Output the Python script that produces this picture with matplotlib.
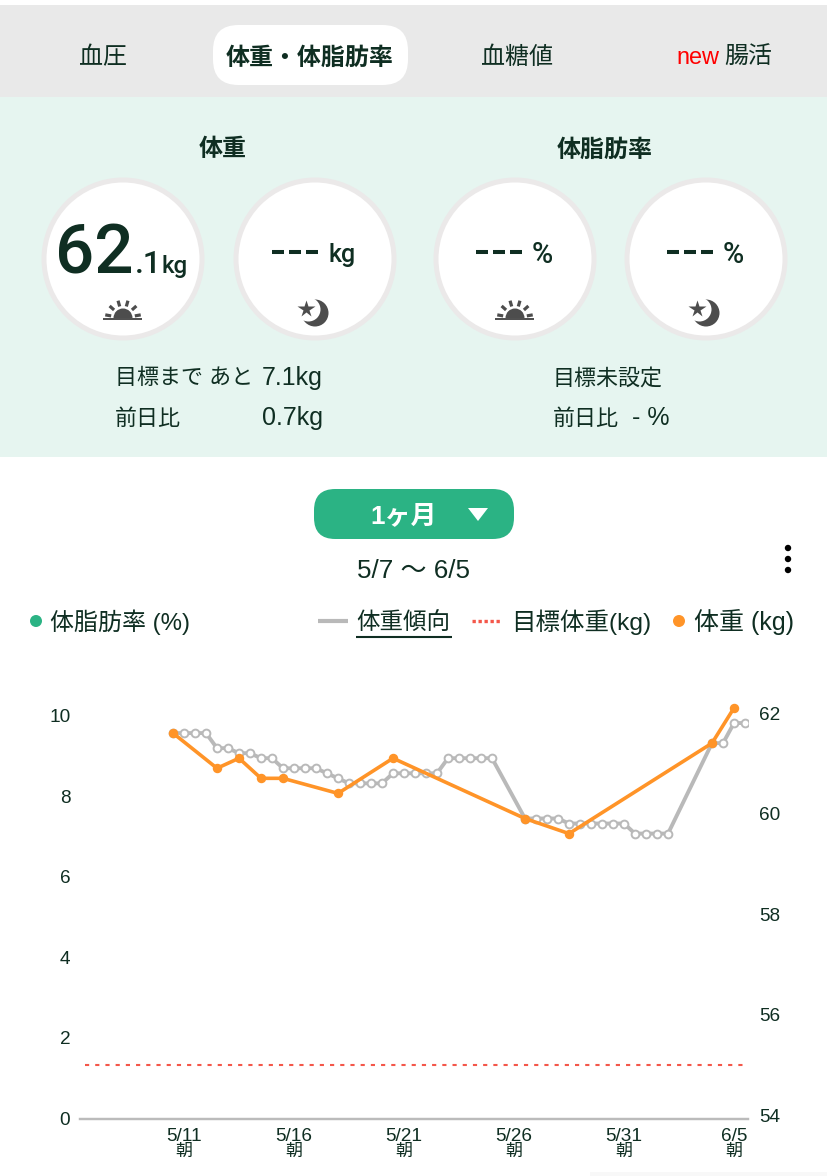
# plot.py - weight / body fat screen with the 1 month chart

import math
import matplotlib
matplotlib.use("Agg")
import matplotlib.pyplot as plt
from matplotlib.patches import Circle, FancyBboxPatch, Rectangle, Wedge, Polygon

W, H = 828, 1176
DARK = "#0f2e22"
ICON = "#4d4d4d"
plt.rcParams["font.family"] = ["Liberation Sans", "Noto Sans CJK JP", "DejaVu Sans"]

# x values count half days from the morning of 5/7
weight_x = [7, 11, 13, 15, 17, 22, 27, 39, 43, 56, 58]
weight_kg = [61.6, 60.9, 61.1, 60.7, 60.7, 60.4, 61.1, 59.9, 59.6, 61.4, 62.1]
trend_x = [7, 8, 9, 10, 11, 12, 13, 14, 15, 16, 17, 18, 19, 20, 21, 22, 23, 24, 25, 26,
           27, 28, 29, 30, 31, 32, 33, 34, 35, 36, 39, 40, 41, 42, 43, 44, 45, 46, 47, 48,
           49, 50, 51, 52, 56, 57, 58, 59]
trend_kg = [61.6, 61.6, 61.6, 61.6, 61.3, 61.3, 61.2, 61.2, 61.1, 61.1, 60.9, 60.9, 60.9, 60.9,
            60.8, 60.7, 60.6, 60.6, 60.6, 60.6, 60.8, 60.8, 60.8, 60.8, 60.8, 61.1, 61.1, 61.1,
            61.1, 61.1, 59.9, 59.9, 59.9, 59.9, 59.8, 59.8, 59.8, 59.8, 59.8, 59.8, 59.6, 59.6,
            59.6, 59.6, 61.4, 61.4, 61.8, 61.8]
target_x = [-1, 59]
target_kg = [55, 55]
date_ticks = [8, 18, 28, 38, 48, 58]
date_labels = ["5/11", "5/16", "5/21", "5/26", "5/31", "6/5"]
time_labels = ["朝", "朝", "朝", "朝", "朝", "朝"]
fat_ticks = [0, 2, 4, 6, 8, 10]
kg_ticks = [54, 56, 58, 60, 62]

tabs = [("血圧", 103, "normal"), ("体重・体脂肪率", 310, "bold"), ("血糖値", 517, "normal")]
circle_x = [123, 315, 515, 706]


def px(size):
    return size * 0.72


def pill(ax, x0, y0, x1, y1, color):
    r = (y1 - y0) / 2 * 0.85
    ax.add_patch(FancyBboxPatch((x0, y0), x1 - x0, y1 - y0, fc=color, ec="none",
                                boxstyle=f"round,pad=0,rounding_size={r}"))


def label(ax, x, y, s, size, ha="left", va="center", color=DARK, weight="normal", **kw):
    ax.text(x, y, s, fontsize=px(size), ha=ha, va=va, color=color, fontweight=weight, **kw)


def sun(ax, cx, y):
    ax.plot([cx - 20, cx + 19], [y + 1, y + 1], color=ICON, lw=1.4, solid_capstyle="butt")
    ax.add_patch(Wedge((cx, y), 9.5, 180, 360, fc=ICON, ec="none"))
    for deg in [10, 42, 74, 106, 138, 170]:
        c, s = math.cos(math.radians(deg)), math.sin(math.radians(deg))
        ax.plot([cx + 12 * c, cx + 18 * c], [y - 12 * s, y - 18 * s], color=ICON, lw=2.3,
                solid_capstyle="butt")


def moon(ax, cx, cy):
    ax.add_patch(Circle((cx, cy), 13.5, fc=ICON, ec="none"))
    ax.add_patch(Circle((cx - 6.5, cy - 3.5), 12, fc="white", ec="none"))
    ax.plot([cx - 9], [cy - 4], marker="*", ms=13, color=ICON, mec="none")


fig = plt.figure(figsize=(W / 100, H / 100), dpi=100, facecolor="white")
ui = fig.add_axes([0, 0, 1, 1])
ui.set_xlim(0, W)
ui.set_ylim(H, 0)
ui.axis("off")

# header bands
ui.add_patch(Rectangle((0, 5), W, 92, fc="#e9e9e9", ec="none"))
ui.add_patch(Rectangle((0, 97), W, 360, fc="#e6f5f0", ec="none"))
pill(ui, 213, 25, 408, 85, "white")
for s, x, w in tabs:
    label(ui, x, 58, s, 24, ha="center", weight=w)
label(ui, 676, 57, "new", 23.5, color="#ff0000")
label(ui, 724, 58, "腸活", 24)

label(ui, 223, 150, "体重", 24, ha="center", weight="bold")
label(ui, 605, 150, "体脂肪率", 24, ha="center", weight="bold")

for cx in circle_x:
    ui.add_patch(Circle((cx, 259), 79, fc="white", ec="#ebe9e9", lw=3.6))

num_font = ["Roboto", "Liberation Sans"]
label(ui, 55, 273, "62", 69, va="baseline", weight=500, family=num_font)
label(ui, 135, 273, ".1", 32, va="baseline", weight=500, family=num_font)
label(ui, 162, 273, "kg", 24, va="baseline", weight=500, family=num_font)
for x0, unit, ux, usize in [(272, "kg", 329, 25), (476, "%", 532, 29), (667, "%", 723, 29)]:
    ui.plot([x0, x0 + 12], [252, 252], color=DARK, lw=2.9, solid_capstyle="butt")
    ui.plot([x0 + 17, x0 + 29], [252, 252], color=DARK, lw=2.9, solid_capstyle="butt")
    ui.plot([x0 + 34, x0 + 46], [252, 252], color=DARK, lw=2.9, solid_capstyle="butt")
    label(ui, ux, 255, unit, usize, weight=500, family=num_font)

sun(ui, circle_x[0], 318)
sun(ui, circle_x[2], 318)
moon(ui, 315, 313)
moon(ui, 706, 313)

label(ui, 115, 379, "目標まで あと", 22)
label(ui, 262, 378, "7.1kg", 25)
label(ui, 115, 419, "前日比", 22)
label(ui, 262, 418, "0.7kg", 25)
label(ui, 553, 379, "目標未設定", 22)
label(ui, 553, 419, "前日比", 22)
label(ui, 632, 418, "- %", 25)

# period selector
pill(ui, 314, 489, 514, 539, "#2bb384")
label(ui, 404, 516, "1ヶ月", 26, ha="center", color="white", weight="bold")
ui.add_patch(Polygon([[468, 508], [488, 508], [478, 521]], fc="white", ec="none"))
label(ui, 414, 571, "5/7 ～ 6/5", 26, ha="center")
for y in [548, 559, 570]:
    ui.add_patch(Circle((788, y), 3.2, fc="black", ec="none"))

# legend row
ui.add_patch(Circle((36, 621), 6, fc="#2bb384", ec="none"))
label(ui, 50, 622, "体脂肪率 (%)", 24)
ui.plot([318, 348], [621, 621], color="#b9b9b9", lw=3, solid_capstyle="butt")
label(ui, 356, 623, "体重傾向", 23.5)
ui.plot([356, 452], [637, 637], color=DARK, lw=1.5, solid_capstyle="butt")
ui.plot([472, 500], [621, 621], color="#f4574a", lw=2.4, ls=(0, (1, 0.8)))
label(ui, 511, 622, "目標体重(kg)", 24.5)
ui.add_patch(Circle((679, 621), 6, fc="#ff9428", ec="none"))
label(ui, 694, 622, "体重 (kg)", 25)

# faint shadow of the next card at the bottom edge
ui.add_patch(Rectangle((590, 1172), 238, 4, fc="#f8f8f8", ec="none"))

# chart axes, placed by pixels: x index i sits at 96 + 11 * i
top, bottom, left, right = 690, 1118.5, 80, 748
ax = fig.add_axes([left / W, 1 - bottom / H, (right - left) / W, (bottom - top) / H])
ax.patch.set_alpha(0)
ax.set_xlim((left - 96) / 11, (right - 96) / 11)
ax.set_ylim(0, (bottom - top) / 40.3)
ax2 = ax.twinx()
ax2.patch.set_alpha(0)
ax2.set_ylim(54 - (bottom - 1115) / 50.25, 54 + (1115 - top) / 50.25)

for a in (ax, ax2):
    for side in ("top", "left", "right"):
        a.spines[side].set_visible(False)
    a.spines["bottom"].set_color("#bbbbbb")
    a.spines["bottom"].set_linewidth(1.6)

ax.set_xticks(date_ticks, date_labels)
ax.tick_params(axis="x", length=0, pad=6.5, labelsize=px(19), labelcolor=DARK)
for t, s in zip(date_ticks, time_labels):
    ax.annotate(s, xy=(t, 0), xycoords=ax.get_xaxis_transform(), xytext=(0, px(-33)),
                textcoords="offset points", ha="center", va="center", fontsize=px(17), color=DARK)
ax.set_yticks(fat_ticks)
ax.tick_params(axis="y", length=0, pad=7, labelsize=px(19), labelcolor=DARK)
ax2.set_yticks(kg_ticks)
ax2.tick_params(axis="y", length=0, pad=8, labelsize=px(19), labelcolor=DARK)

ax2.plot(target_x, target_kg, color="#f4574a", lw=1.5, ls=(0, (2, 2.9)))
ax2.plot(trend_x, trend_kg, color="#b9b9b9", lw=2.8, marker="o", ms=5.6,
         mfc="white", mec="#b9b9b9", mew=1.4)
ax2.plot(weight_x, weight_kg, color="#ff9428", lw=2.6, marker="o", ms=5.8, mec="#ff9428")

fig.savefig("out.png", dpi=100)
